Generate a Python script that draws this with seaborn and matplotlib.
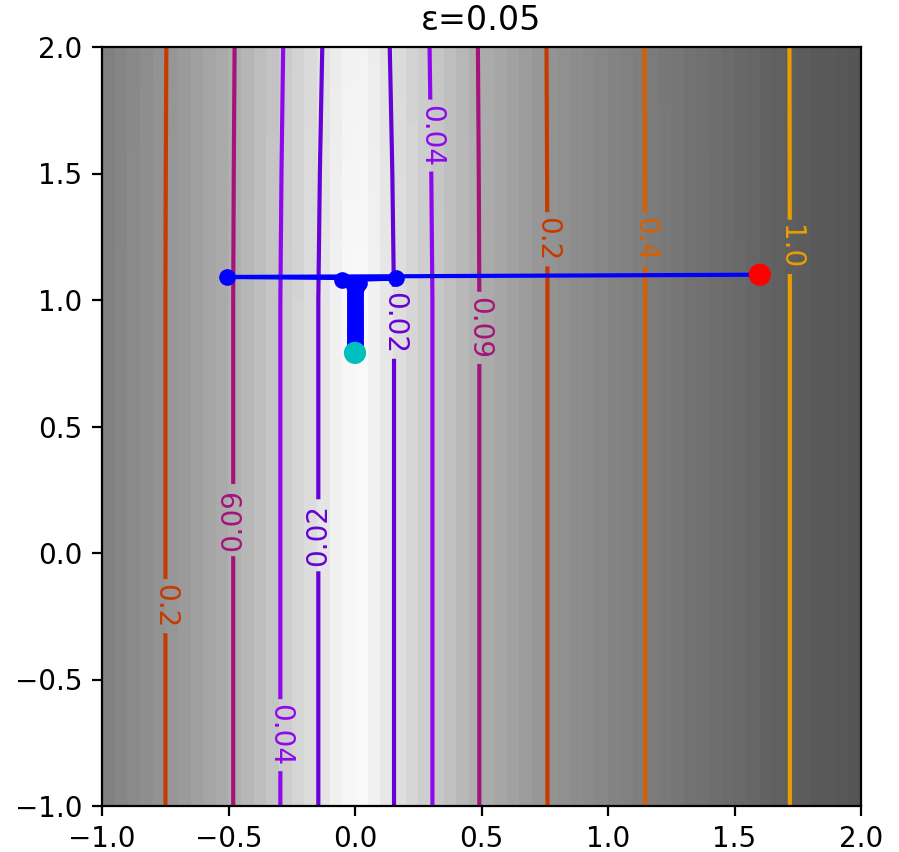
import numpy as np
import matplotlib
matplotlib.use("Agg")
import matplotlib.pyplot as plt
from matplotlib.colors import LogNorm
import seaborn as sns

# ---------------- data ----------------
title = "ε=0.05"

# contour levels, their labels and line colours
levels = [0.02, 0.04, 0.09, 0.2, 0.4, 1.0]
level_labels = ["0.02", "0.04", "0.09", "0.2", "0.4", "1.0"]
level_colors = ["#6601d7", "#8e08ed", "#a5137b", "#c73a00", "#d85f00", "#eb9d00"]

# horizontal profile of the surface (x positions of the level crossings, y ~ -1)
profile_x = [-1.0, -0.749, -0.481, -0.295, -0.145, -0.075, 0.005, 0.08,
             0.154, 0.306, 0.491, 0.760, 1.147, 1.718, 2.0]
profile_f = [0.37, 0.2, 0.09, 0.04, 0.02, 0.0125, 0.009, 0.0125,
             0.02, 0.04, 0.09, 0.2, 0.4, 1.0, 1.35]
# slow rise of the surface with y
rise_y = [-1.0, 1.0, 1.5, 2.0]
rise_f = [0.0, 0.0, 0.0008, 0.002]

# gradient-descent path
path_x = [1.6, -0.506, 0.162, -0.052, 0.017, -0.005, 0.002, 0.001, 0.0, 0.0,
          0.0, 0.0, 0.0, 0.0, 0.0, 0.0, 0.0, 0.0, 0.0, 0.0,
          0.0, 0.0, 0.0, 0.0, 0.0, 0.0, 0.0, 0.0, 0.0, 0.0,
          0.0, 0.0, 0.0, 0.0]
path_y = [1.100, 1.091, 1.085, 1.078, 1.067, 1.056, 1.046, 1.035, 1.025, 1.015,
          1.005, 0.995, 0.985, 0.975, 0.965, 0.956, 0.946, 0.937, 0.927, 0.918,
          0.909, 0.900, 0.891, 0.882, 0.873, 0.865, 0.856, 0.848, 0.839, 0.831,
          0.823, 0.815, 0.807, 0.791]
start_point = (1.6, 1.1)
end_point = (0.0, 0.791)

# label anchor positions and label rotations
label_positions = [(0.30, 1.65), (0.755, 1.24), (1.147, 1.24), (1.72, 1.21),
                   (0.16, 0.91), (0.49, 0.89), (-0.48, 0.13), (-0.15, 0.07),
                   (-0.75, -0.21), (-0.29, -0.72)]
label_rotations = [-90, -90, -90, -90, -90, -90, 90, 90, -90, -90]

# ---------------- surface on grids ----------------
def surface(xv, yv):
    fx = 10 ** np.interp(xv, profile_x, np.log10(profile_f))
    fy = np.interp(yv, rise_y, rise_f)
    return fx[None, :] + fy[:, None]

xc = np.linspace(-1 + 0.025, 2 - 0.025, 60)
Zimg = surface(xc, xc)
xf = np.linspace(-1, 2, 401)
Zf = surface(xf, xf)

# ---------------- figure ----------------
dpi = 200
fig = plt.figure(figsize=(899 / dpi, 852 / dpi), dpi=dpi)
ax = fig.add_axes([102 / 899, 46 / 852, 759 / 899, 759 / 852])

ax.imshow(Zimg, extent=[-1, 2, -1, 2], origin="lower", cmap="gray_r",
          norm=LogNorm(vmin=0.008, vmax=17), interpolation="nearest",
          aspect="auto")
cs = ax.contour(xf, xf, Zf, levels=levels, colors=level_colors, linewidths=1.5)
texts = ax.clabel(cs, fmt=dict(zip(levels, level_labels)), inline=True,
                  fontsize=10, manual=label_positions)
for t in texts:
    tx, ty = t.get_position()
    d = [(tx - px) ** 2 + (ty - py) ** 2 for px, py in label_positions]
    t.set_rotation(label_rotations[int(np.argmin(d))])

sns.lineplot(x=path_x, y=path_y, sort=False, estimator=None, ax=ax,
             color="blue", marker="o", markersize=6, markeredgecolor="blue",
             markeredgewidth=0, linewidth=1.5)
sns.scatterplot(x=[start_point[0]], y=[start_point[1]], ax=ax, color="red",
                s=64, edgecolor="none", zorder=5)
sns.scatterplot(x=[end_point[0]], y=[end_point[1]], ax=ax, color="c",
                s=64, edgecolor="none", zorder=5)

ax.set_xlim(-1, 2)
ax.set_ylim(-1, 2)
ax.set_xticks([-1.0, -0.5, 0.0, 0.5, 1.0, 1.5, 2.0])
ax.set_yticks([-1.0, -0.5, 0.0, 0.5, 1.0, 1.5, 2.0])
ax.set_title(title, fontsize=12)

fig.savefig("out.png", dpi=dpi)
